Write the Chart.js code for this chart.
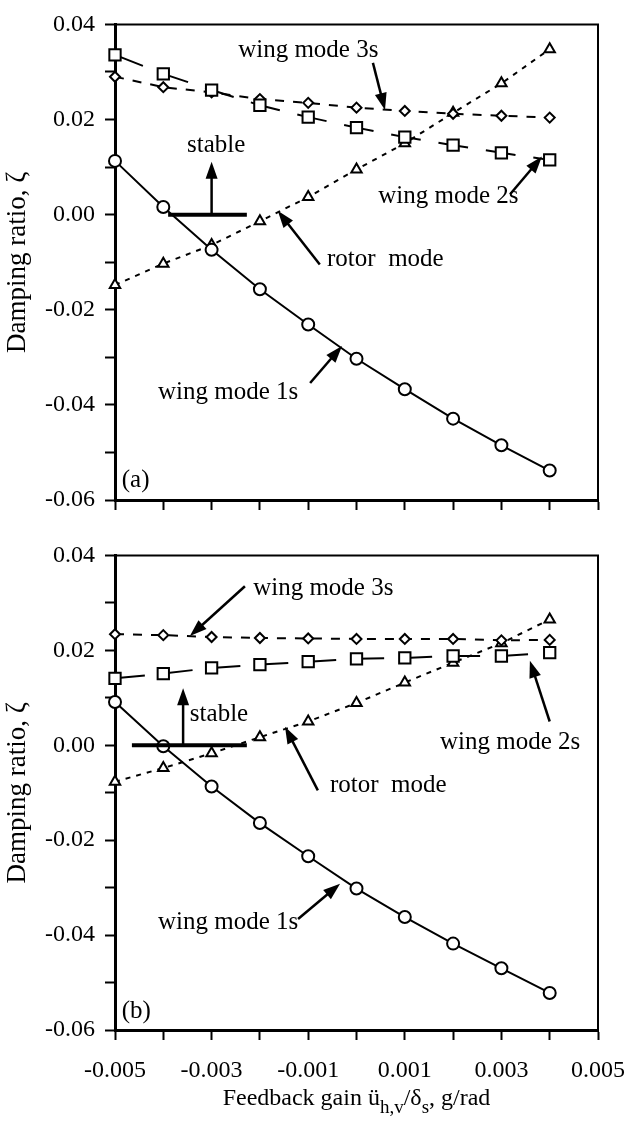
<!DOCTYPE html>
<html>
<head>
<meta charset="utf-8">
<script src="https://cdn.jsdelivr.net/npm/chart.js@4.4.0/dist/chart.umd.min.js"></script>
<style>
  html, body { margin: 0; padding: 0; background: #fff; }
  canvas { position: absolute; left: 0; }
  #panelA { top: 0; }
  #panelB { top: 531px; }
</style>
</head>
<body>
<canvas id="panelA" width="629" height="531"></canvas>
<canvas id="panelB" width="629" height="590"></canvas>
<script>
// feedback gain, g/rad
const gain = [-0.005, -0.004, -0.003, -0.002, -0.001, 0, 0.001, 0.002, 0.003, 0.004];

// (a) damping ratios
const aWing1s = [0.0113, 0.0016, -0.0074, -0.0157, -0.0231, -0.0303, -0.0367, -0.0429, -0.0485, -0.0538];
const aWing2s = [0.0336, 0.0296, 0.0262, 0.0230, 0.0205, 0.0183, 0.0163, 0.0146, 0.0130, 0.0115];
const aWing3s = [0.0290, 0.0268, 0.0257, 0.0243, 0.0235, 0.0225, 0.0218, 0.0212, 0.0208, 0.0204];
const aRotor  = [-0.0148, -0.0103, -0.0064, -0.0014, 0.0037, 0.0095, 0.0150, 0.0214, 0.0276, 0.0348];

// (b) damping ratios
const bWing1s = [0.0091, -0.0002, -0.0087, -0.0164, -0.0234, -0.0302, -0.0362, -0.0418, -0.0470, -0.0522];
const bWing2s = [0.0141, 0.0151, 0.0163, 0.0170, 0.0176, 0.0182, 0.0184, 0.0188, 0.0188, 0.0195];
const bWing3s = [0.0234, 0.0232, 0.0228, 0.0226, 0.0225, 0.0224, 0.0224, 0.0224, 0.0221, 0.0222];
const bRotor  = [-0.0077, -0.0048, -0.0017, 0.0017, 0.0050, 0.0089, 0.0132, 0.0174, 0.0215, 0.0265];

// labelled ticks
const yLabels = [-0.06, -0.04, -0.02, 0, 0.02, 0.04];
const xLabels = [-0.005, -0.003, -0.001, 0.001, 0.003, 0.005];

// callouts, in data units
const notesA = [
  { text: 'wing mode 3s', x: -0.00245, y: 0.0346, from: [0.00034, 0.0319], to: [0.00059, 0.0220] },
  { text: 'stable', x: -0.00351, y: 0.0146, from: [-0.0030, 0], to: [-0.0030, 0.0111] },
  { text: 'rotor  mode', x: -0.00061, y: -0.0095, from: [-0.00076, -0.0105], to: [-0.00163, 0.0008] },
  { text: 'wing mode 2s', x: 0.00045, y: 0.0039, from: [0.00318, 0.0043], to: [0.00384, 0.0122] },
  { text: 'wing mode 1s', x: -0.00411, y: -0.0373, from: [-0.00096, -0.0354], to: [-0.0003, -0.0276] },
  { text: '(a)', x: -0.00486, y: -0.0558 }
];
const stableA = [-0.0039, -0.00227];

const notesB = [
  { text: 'wing mode 3s', x: -0.00214, y: 0.0330, from: [-0.00231, 0.0335], to: [-0.00345, 0.0230] },
  { text: 'stable', x: -0.00345, y: 0.0064, from: [-0.00359, 0], to: [-0.00359, 0.0120] },
  { text: 'rotor  mode', x: -0.00055, y: -0.0085, from: [-0.0008, -0.0095], to: [-0.00148, 0.0039] },
  { text: 'wing mode 2s', x: 0.00173, y: 0.0006, from: [0.0040, 0.0050], to: [0.00359, 0.0178] },
  { text: 'wing mode 1s', x: -0.00411, y: -0.0373, from: [-0.00121, -0.0366], to: [-0.00034, -0.0292] },
  { text: '(b)', x: -0.00486, y: -0.0561 }
];
const stableB = [-0.00465, -0.00227];

const FONT = '"Liberation Serif", "Times New Roman", serif';

function pts(values) {
  return gain.map((g, i) => ({ x: g, y: values[i] }));
}

function series(values, style, radius, dash) {
  return {
    data: pts(values),
    borderColor: '#000',
    borderWidth: 2,
    borderDash: dash,
    pointStyle: style,
    pointRadius: radius,
    pointBorderWidth: 2,
    pointBorderColor: '#000',
    pointBackgroundColor: '#fff',
    fill: false,
    tension: 0,
    clip: false
  };
}

function arrow(ctx, x1, y1, x2, y2) {
  const a = Math.atan2(y2 - y1, x2 - x1);
  const len = 17, half = 6;
  ctx.beginPath();
  ctx.moveTo(x1, y1);
  ctx.lineTo(x2 - Math.cos(a) * len * 0.8, y2 - Math.sin(a) * len * 0.8);
  ctx.lineWidth = 2.5;
  ctx.stroke();
  ctx.beginPath();
  ctx.moveTo(x2, y2);
  ctx.lineTo(x2 - Math.cos(a) * len - Math.sin(a) * half, y2 - Math.sin(a) * len + Math.cos(a) * half);
  ctx.lineTo(x2 - Math.cos(a) * len + Math.sin(a) * half, y2 - Math.sin(a) * len - Math.cos(a) * half);
  ctx.closePath();
  ctx.fill();
}

// frame, callouts and the stability line
const decorations = {
  id: 'decorations',
  afterDatasetsDraw(chart, args, opts) {
    const { ctx, chartArea: ca, scales: { x, y } } = chart;
    ctx.save();
    ctx.strokeStyle = '#000';
    ctx.fillStyle = '#000';
    ctx.lineWidth = 2;
    ctx.beginPath();
    ctx.moveTo(ca.left, ca.top);
    ctx.lineTo(ca.right, ca.top);
    ctx.lineTo(ca.right, ca.bottom);
    ctx.stroke();

    ctx.lineWidth = 4;
    ctx.beginPath();
    ctx.moveTo(x.getPixelForValue(opts.stable[0]), y.getPixelForValue(0));
    ctx.lineTo(x.getPixelForValue(opts.stable[1]), y.getPixelForValue(0));
    ctx.stroke();

    ctx.font = '25px ' + FONT;
    ctx.textAlign = 'left';
    ctx.textBaseline = 'middle';
    opts.notes.forEach(n => {
      ctx.fillText(n.text, x.getPixelForValue(n.x), y.getPixelForValue(n.y));
      if (n.from) {
        arrow(ctx, x.getPixelForValue(n.from[0]), y.getPixelForValue(n.from[1]),
                   x.getPixelForValue(n.to[0]), y.getPixelForValue(n.to[1]));
      }
    });

    // x-axis title with subscripts
    if (opts.xTitle) {
      const parts = [
        ['Feedback gain ü', 0], ['h,v', 1], ['/δ', 0], ['s', 1], [', g/rad', 0]
      ];
      const big = '24px ' + FONT, small = '19px ' + FONT;
      let w = 0;
      parts.forEach(p => { ctx.font = p[1] ? small : big; w += ctx.measureText(p[0]).width; });
      let cx = (ca.left + ca.right) / 2 - w / 2;
      const base = ca.bottom + 75;
      ctx.textBaseline = 'alphabetic';
      parts.forEach(p => {
        ctx.font = p[1] ? small : big;
        ctx.fillText(p[0], cx, base + (p[1] ? 8 : 0));
        cx += ctx.measureText(p[0]).width;
      });
    }
    ctx.restore();
  }
};

function makePanel(id, data, notes, stable, xHeight, showX) {
  const axisGrid = {
    display: true, drawOnChartArea: false, drawTicks: true,
    tickLength: 10, tickWidth: 2, tickColor: '#000', color: '#000'
  };
  return new Chart(document.getElementById(id), {
    type: 'line',
    data: {
      datasets: [
        series(data[0], 'circle', 6, []),
        series(data[1], 'rect', 8, [30, 18]),
        series(data[2], 'rectRot', 5, [9, 9]),
        series(data[3], 'triangle', 6, [5, 6])
      ]
    },
    options: {
      responsive: false,
      animation: false,
      layout: { padding: { top: 17, right: 31, left: 0, bottom: 0 } },
      plugins: {
        legend: { display: false },
        tooltip: { enabled: false },
        decorations: { notes: notes, stable: stable, xTitle: showX }
      },
      scales: {
        x: {
          type: 'linear',
          min: -0.005, max: 0.005,
          grid: axisGrid,
          border: { display: true, color: '#000', width: 3 },
          // fixed height; end labels may overhang into the layout padding
          afterFit: s => { s.height = xHeight; s.paddingLeft = 0; s.paddingRight = 0; },
          ticks: {
            stepSize: 0.001,
            autoSkip: false,
            maxRotation: 0,
            padding: 16,
            color: '#000',
            font: { family: FONT, size: 24 },
            callback: v => {
              if (!showX) return '';
              const r = Math.round(v * 1000) / 1000;
              return xLabels.includes(r) ? r.toFixed(3) : '';
            }
          }
        },
        y: {
          min: -0.06, max: 0.04,
          grid: axisGrid,
          border: { display: true, color: '#000', width: 3 },
          afterFit: s => { s.width = 115; },
          title: {
            display: true,
            text: 'Damping ratio, ζ',
            color: '#000',
            padding: { top: 2, bottom: 2 },
            font: { family: FONT, size: 27 }
          },
          ticks: {
            stepSize: 0.01,
            autoSkip: false,
            padding: 10,
            color: '#000',
            font: { family: FONT, size: 24 },
            callback: v => {
              let r = Math.round(v * 100) / 100;
              if (r === 0) r = 0;
              return yLabels.includes(r) ? r.toFixed(2) : '';
            }
          }
        }
      }
    },
    plugins: [decorations]
  });
}

makePanel('panelA', [aWing1s, aWing2s, aWing3s, aRotor], notesA, stableA, 31, false);
makePanel('panelB', [bWing1s, bWing2s, bWing3s, bRotor], notesB, stableB, 91, true);
</script>
</body>
</html>
